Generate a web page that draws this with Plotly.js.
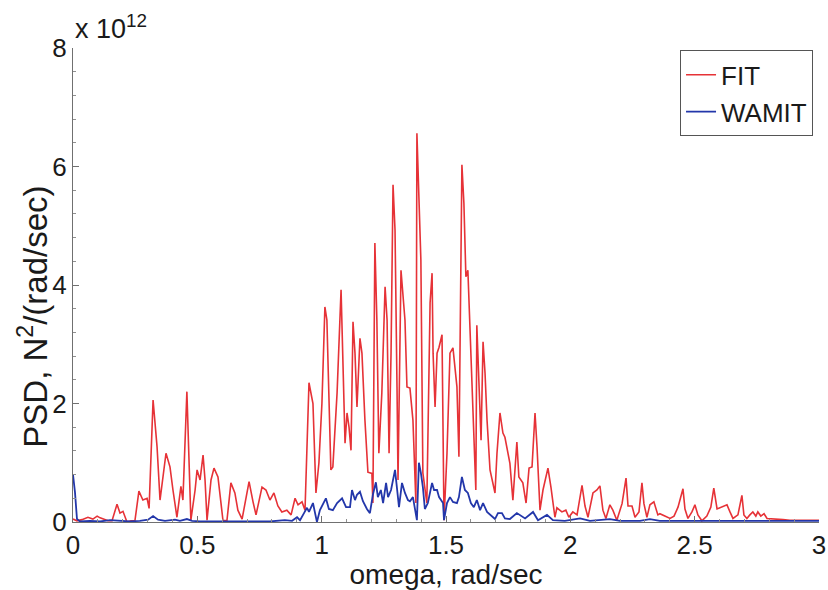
<!DOCTYPE html>
<html>
<head>
<meta charset="utf-8">
<script src="https://cdn.plot.ly/plotly-3.0.1.min.js"></script>
<style>html,body{margin:0;padding:0;background:#fff}#chart{width:828px;height:590px}</style>
</head>
<body>
<div id="chart"></div>
<script>
// omega (rad/sec) and PSD values in units of 1e12 N^2/(rad/sec)
const fitOmega = [0.000,0.016,0.036,0.060,0.080,0.097,0.109,0.121,0.141,0.157,0.177,0.189,0.201,0.217,0.233,0.249,0.265,0.281,0.298,0.306,0.322,0.338,0.350,0.374,0.390,0.402,0.418,0.434,0.442,0.458,0.474,0.491,0.499,0.511,0.523,0.531,0.539,0.555,0.567,0.583,0.603,0.619,0.635,0.651,0.663,0.680,0.692,0.708,0.724,0.736,0.760,0.776,0.792,0.808,0.824,0.840,0.860,0.877,0.893,0.905,0.921,0.933,0.949,0.965,0.977,0.989,1.001,1.013,1.021,1.037,1.045,1.062,1.078,1.082,1.094,1.102,1.110,1.118,1.126,1.134,1.142,1.154,1.162,1.174,1.186,1.202,1.206,1.214,1.222,1.230,1.242,1.255,1.263,1.271,1.279,1.287,1.295,1.303,1.307,1.319,1.327,1.335,1.343,1.355,1.367,1.379,1.383,1.391,1.399,1.407,1.423,1.436,1.444,1.448,1.456,1.464,1.472,1.484,1.488,1.492,1.504,1.516,1.528,1.544,1.552,1.560,1.564,1.572,1.580,1.588,1.600,1.608,1.620,1.624,1.633,1.641,1.649,1.657,1.665,1.677,1.697,1.705,1.717,1.729,1.737,1.757,1.769,1.785,1.793,1.809,1.822,1.834,1.846,1.858,1.866,1.878,1.890,1.910,1.922,1.938,1.946,1.966,1.982,1.994,2.010,2.027,2.047,2.059,2.071,2.091,2.107,2.119,2.131,2.143,2.159,2.171,2.187,2.208,2.224,2.232,2.248,2.260,2.276,2.288,2.296,2.308,2.320,2.336,2.352,2.360,2.380,2.401,2.417,2.433,2.453,2.461,2.473,2.489,2.501,2.513,2.529,2.549,2.565,2.577,2.590,2.610,2.630,2.642,2.654,2.674,2.690,2.698,2.710,2.722,2.734,2.746,2.754,2.766,2.779,2.791,2.811,2.831,2.855,2.883,2.911,2.951,3.000];
const fitPSD = [0.05,0.02,0.04,0.08,0.05,0.10,0.07,0.05,0.02,0.02,0.30,0.15,0.18,0.00,0.02,0.02,0.52,0.37,0.40,0.23,2.06,1.27,0.37,1.16,0.93,0.54,0.08,0.60,0.37,2.20,0.03,0.54,0.88,0.71,1.13,0.71,0.03,0.71,0.91,0.76,0.03,0.02,0.66,0.49,0.20,0.05,0.32,0.68,0.34,0.12,0.59,0.54,0.37,0.49,0.27,0.17,0.20,0.12,0.40,0.29,0.34,0.20,2.35,2.00,0.49,1.00,2.00,3.63,3.41,0.88,0.93,2.18,3.92,3.29,1.33,1.84,1.60,1.21,3.38,2.85,1.94,3.10,2.85,1.72,0.84,0.82,0.32,4.71,3.41,1.16,2.18,3.97,3.41,1.16,2.85,5.69,4.93,2.28,0.71,4.25,3.80,3.41,2.28,2.26,1.72,0.32,6.56,5.65,4.42,0.83,0.32,3.70,4.20,2.85,1.94,2.85,2.95,3.16,1.72,0.03,1.16,2.85,2.94,2.28,1.10,5.38,6.03,5.38,4.14,4.25,2.85,1.72,0.54,3.32,2.10,1.38,3.04,2.51,1.72,0.88,0.49,1.16,1.84,1.50,1.43,0.99,0.37,1.35,0.76,0.66,0.32,0.91,0.93,1.84,1.27,0.20,0.54,0.91,0.59,0.08,0.24,0.17,0.20,0.08,0.17,0.12,0.62,0.27,0.08,0.49,0.54,0.61,0.20,0.06,0.29,0.20,0.03,0.31,0.74,0.27,0.27,0.08,0.17,0.66,0.31,0.08,0.29,0.34,0.12,0.14,0.10,0.06,0.10,0.25,0.56,0.22,0.06,0.17,0.29,0.12,0.02,0.10,0.25,0.57,0.22,0.25,0.29,0.17,0.06,0.12,0.45,0.12,0.06,0.12,0.17,0.10,0.17,0.10,0.14,0.06,0.05,0.04,0.04,0.03,0.03,0.03,0.03];

const wamitOmega = [0.000,0.008,0.016,0.028,0.068,0.109,0.149,0.189,0.229,0.269,0.302,0.322,0.342,0.370,0.410,0.430,0.458,0.479,0.511,0.571,0.631,0.712,0.792,0.852,0.881,0.901,0.913,0.929,0.941,0.949,0.965,0.981,0.993,1.017,1.029,1.045,1.062,1.082,1.098,1.114,1.122,1.134,1.142,1.154,1.166,1.182,1.194,1.206,1.218,1.226,1.238,1.247,1.259,1.267,1.279,1.295,1.303,1.311,1.323,1.335,1.347,1.355,1.367,1.383,1.391,1.399,1.407,1.415,1.427,1.444,1.452,1.464,1.472,1.488,1.492,1.504,1.516,1.528,1.544,1.552,1.564,1.576,1.588,1.600,1.612,1.624,1.637,1.649,1.665,1.677,1.697,1.709,1.725,1.737,1.757,1.785,1.818,1.850,1.870,1.906,1.930,1.978,2.039,2.079,2.159,2.200,2.280,2.320,2.360,2.521,2.722,3.000];
const wamitPSD = [0.80,0.50,0.05,0.01,0.02,0.01,0.03,0.02,0.01,0.02,0.04,0.10,0.04,0.02,0.04,0.02,0.05,0.02,0.01,0.01,0.01,0.02,0.01,0.03,0.02,0.08,0.03,0.15,0.24,0.17,0.32,0.00,0.20,0.40,0.22,0.20,0.32,0.40,0.25,0.25,0.54,0.37,0.46,0.51,0.35,0.22,0.15,0.46,0.67,0.42,0.54,0.32,0.66,0.42,0.54,0.88,0.59,0.25,0.66,0.49,0.37,0.35,0.42,0.03,1.00,0.83,0.59,0.22,0.32,0.66,0.54,0.54,0.42,0.32,0.03,0.32,0.42,0.34,0.32,0.42,0.76,0.54,0.49,0.32,0.25,0.37,0.20,0.32,0.17,0.12,0.05,0.15,0.15,0.06,0.05,0.15,0.06,0.17,0.03,0.12,0.03,0.02,0.06,0.02,0.05,0.02,0.02,0.05,0.02,0.02,0.02,0.02];

const seriesNames = ['FIT', 'WAMIT'];
const xTickVals = [0, 0.5, 1, 1.5, 2, 2.5, 3];
const xTickText = ['0', '0.5', '1', '1.5', '2', '2.5', '3'];
const yTickVals = [0, 2, 4, 6, 8];
const yTickText = ['0', '2', '4', '6', '8'];
const xTitle = 'omega, rad/sec';
const yTitle = 'PSD, N<sup>2</sup>/(rad/sec)';
const exponentLabel = 'x 10<sup>12</sup>';

const FONT = 'Liberation Sans, Arial, Helvetica, sans-serif';
const TXT = '#1a1a1a';
const traces = [
  {x: fitOmega, y: fitPSD, name: seriesNames[0], type: 'scatter', mode: 'lines',
   line: {color: 'rgb(230,50,55)', width: 1.6}},
  {x: wamitOmega, y: wamitPSD, name: seriesNames[1], type: 'scatter', mode: 'lines',
   line: {color: 'rgb(35,55,170)', width: 1.8}}
];
const axisCommon = {
  showgrid: false, zeroline: false, showline: true, linecolor: '#707070', linewidth: 1,
  ticks: 'inside', ticklen: 6, tickcolor: '#707070', tickwidth: 1,
  tickfont: {family: FONT, size: 26, color: TXT}, mirror: false
};
const layout = {
  width: 828, height: 590,
  margin: {l: 73, r: 9, t: 48, b: 68},
  paper_bgcolor: '#ffffff', plot_bgcolor: '#ffffff',
  font: {family: FONT, color: TXT},
  showlegend: true,
  legend: {x: 0.992, y: 0.995, xanchor: 'right', yanchor: 'top', bgcolor: '#ffffff',
    bordercolor: '#555', borderwidth: 1, font: {family: FONT, size: 26, color: TXT},
    tracegroupgap: 0},
  xaxis: Object.assign({}, axisCommon, {
    range: [0, 3], tickvals: xTickVals, ticktext: xTickText,
    minor: {ticks: 'inside', dtick: 0.1, ticklen: 3, tickcolor: '#909090', showgrid: false},
    title: {text: xTitle, font: {family: FONT, size: 28, color: TXT}, standoff: 2}
  }),
  yaxis: Object.assign({}, axisCommon, {
    range: [0, 8], tickvals: yTickVals, ticktext: yTickText,
    minor: {ticks: 'inside', dtick: 0.4, ticklen: 3, tickcolor: '#909090', showgrid: false}
  }),
  annotations: [{
    xref: 'paper', yref: 'paper', x: 0, y: 1, xanchor: 'left', yanchor: 'bottom',
    xshift: 0, yshift: 2, showarrow: false,
    text: exponentLabel, font: {family: FONT, size: 27, color: TXT}
  }, {
    xref: 'paper', yref: 'paper', x: -0.054, y: 0.5, xanchor: 'center', yanchor: 'middle',
    textangle: -90, showarrow: false, yshift: -32,
    text: yTitle, font: {family: FONT, size: 33, color: TXT}
  }]
};
Plotly.newPlot('chart', traces, layout, {displayModeBar: false, staticPlot: true});
</script>
</body>
</html>
